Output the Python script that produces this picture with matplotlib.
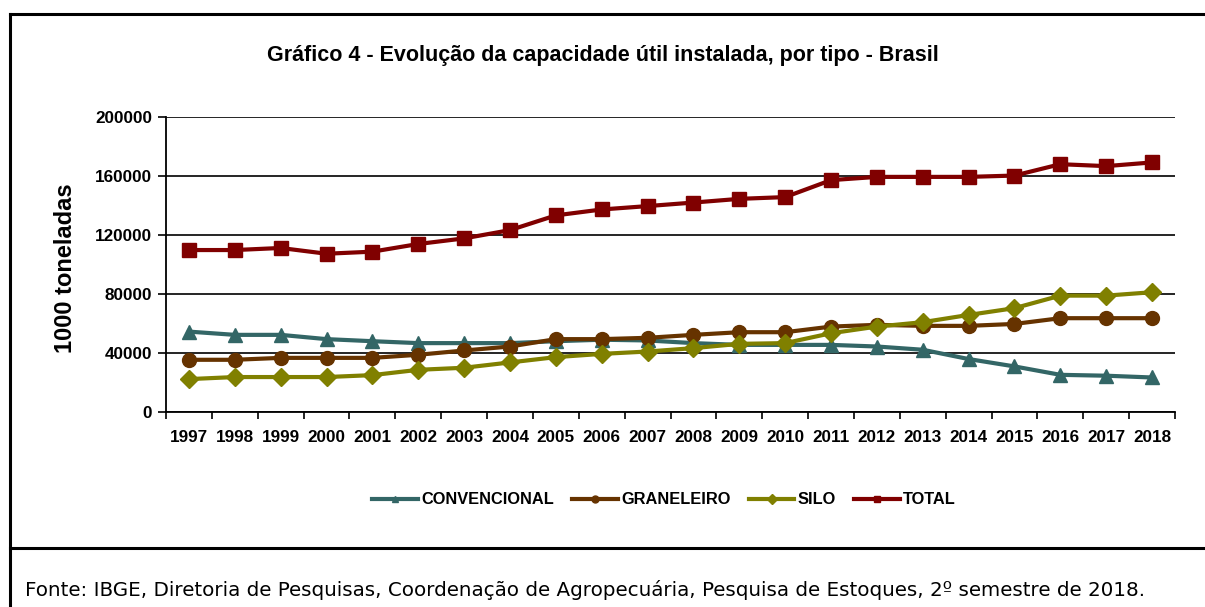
import numpy as np
import matplotlib
matplotlib.use("Agg")
import matplotlib.pyplot as plt
from matplotlib.lines import Line2D

years = [str(y) for y in range(1997, 2019)]

convencional = [54500, 52300, 52300, 49400, 48000, 46700, 46700, 46700, 48000, 49000,
                48500, 46700, 45500, 45500, 45500, 44400, 42200, 35900, 30900, 25200,
                24600, 23400]
graneleiro = [35400, 35400, 36700, 36700, 36700, 38800, 41700, 44400, 49400, 49400,
              50300, 52300, 54100, 54100, 57900, 59100, 58400, 58400, 59700, 63600,
              63600, 63600]
silo = [22300, 23700, 23700, 23700, 25000, 28600, 30000, 33600, 37200, 39400,
        41000, 43300, 46200, 46700, 53400, 57900, 60900, 65800, 70400, 78900,
        78900, 81200]
total = [109800, 109800, 111200, 107300, 108700, 113900, 117700, 123300, 133300, 137300,
         139600, 142000, 144500, 145700, 157200, 159400, 159400, 159400, 160300, 168000,
         166700, 169200]

series = [
    ("CONVENCIONAL", convencional, "#336666", "^"),
    ("GRANELEIRO", graneleiro, "#663300", "o"),
    ("SILO", silo, "#808000", "D"),
    ("TOTAL", total, "#800000", "s"),
]

title = "Gráfico 4 - Evolução da capacidade útil instalada, por tipo - Brasil"
ylabel = "1000 toneladas"
source = ("Fonte: IBGE, Diretoria de Pesquisas, Coordenação de Agropecuária, "
          "Pesquisa de Estoques, 2º semestre de 2018.")

plt.rcParams["font.family"] = ["Liberation Sans", "DejaVu Sans"]

W, H = 1205, 607
fig = plt.figure(figsize=(W / 100, H / 100), dpi=100)
ax = fig.add_axes([166 / W, 1 - 412 / H, (1175 - 166) / W, (412 - 117) / H])

x = np.arange(len(years))
handles = []
sizes = {"^": 10.5, "o": 10, "D": 9, "s": 9.5}
for name, vals, color, marker in series:
    ax.plot(x, vals, color=color, linewidth=3, marker=marker,
            markersize=sizes[marker], markeredgecolor=color, label=name)
    handles.append(Line2D([], [], color=color, linewidth=3, marker=marker,
                          markersize=5, markeredgecolor=color))

ax.set_xlim(-0.5, len(years) - 0.5)
ax.set_ylim(0, 200000)
ax.set_yticks(np.arange(0, 200001, 40000))
ax.set_yticklabels([str(v) for v in range(0, 200001, 40000)],
                   fontsize=12.3, fontweight="bold")
ax.set_xticks(x)
ax.set_xticklabels(years, fontsize=12.3, fontweight="bold")
ax.set_xticks(np.arange(-0.5, len(years), 1), minor=True)
ax.tick_params(axis="x", which="major", length=0, pad=13)
ax.tick_params(axis="x", which="minor", length=5, width=1.2, direction="out")
ax.tick_params(axis="y", length=6, width=1.2, direction="out", pad=4)
ax.grid(axis="y", color="black", linewidth=1.2)
ax.set_axisbelow(True)
for s in ["top", "right"]:
    ax.spines[s].set_visible(False)
for s in ["left", "bottom"]:
    ax.spines[s].set_linewidth(1.3)

fig.text(603 / W, 1 - 55 / H, title, ha="center", va="center",
         fontsize=15.5, fontweight="bold")
fig.text(65 / W, 1 - 268 / H, ylabel, ha="center", va="center", rotation=90,
         fontsize=17, fontweight="bold")

fig.legend(handles, [s[0] for s in series], loc="center",
           bbox_to_anchor=(664 / W, 1 - 500 / H), ncol=4, frameon=False,
           prop={"size": 11.8, "weight": "bold"}, handlelength=2.8,
           handletextpad=0.2, columnspacing=1.1)

fig.text(25 / W, 1 - 590 / H, source, ha="left", va="center",
         fontsize=14.3, family="DejaVu Sans")

# moldura
border = dict(color="black", linewidth=2.2, transform=fig.transFigure)
fig.add_artist(Line2D([10 / W, 10 / W], [0, 1 - 14 / H], **border))
fig.add_artist(Line2D([10 / W, 1], [1 - 14 / H, 1 - 14 / H], **border))
fig.add_artist(Line2D([10 / W, 1], [1 - 548 / H, 1 - 548 / H], **border))

fig.savefig("out.png", dpi=100, facecolor="white")
